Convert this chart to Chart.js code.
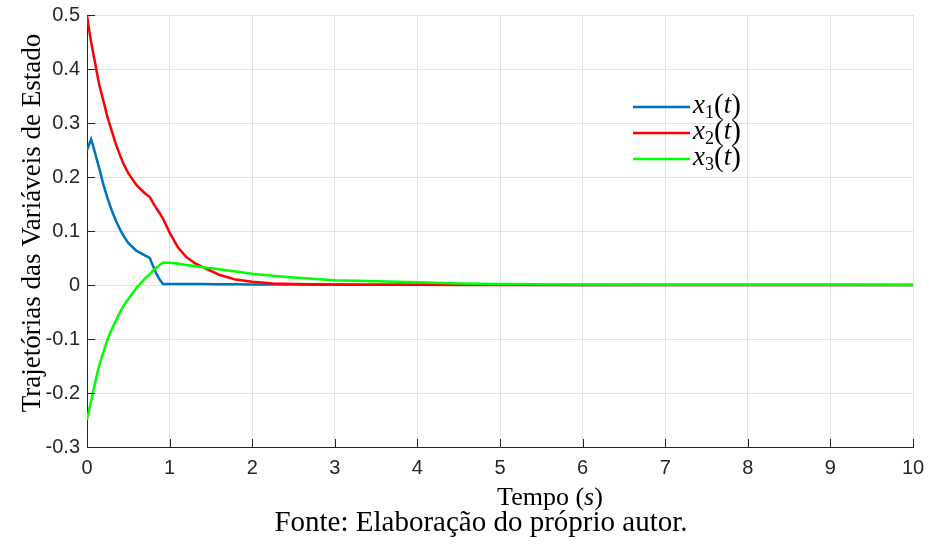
<!DOCTYPE html>
<html lang="pt">
<head>
    <meta charset="UTF-8">
    <title>Trajetórias das Variáveis de Estado</title>
    <script src="https://cdn.jsdelivr.net/npm/chart.js"></script>
    <style>
        * { margin: 0; padding: 0; box-sizing: border-box; }
        html, body { width: 929px; height: 544px; background: #fff; overflow: hidden; }
        .wrap { position: relative; width: 929px; height: 544px; }
    </style>
</head>
<body>
    <div class="wrap">
        <canvas id="chart"></canvas>
    </div>

    <script>
        // time samples (s) and the three state trajectories
        const tempo = [0, 0.025, 0.05, 0.075, 0.1, 0.125, 0.15, 0.2, 0.25, 0.3, 0.35, 0.4, 0.45, 0.5, 0.6, 0.7, 0.76, 0.8, 0.84, 0.88, 0.92,
            1.0, 1.1, 1.2, 1.3, 1.4, 1.6, 1.8, 2.0, 2.25, 2.5, 3, 3.5, 4, 4.5, 5, 6, 7, 8, 9, 10];
        const x1 = [0.25, 0.26, 0.27, 0.257, 0.243, 0.229, 0.215, 0.185, 0.16, 0.138, 0.119, 0.103, 0.089, 0.078, 0.063, 0.055, 0.05, 0.035, 0.021, 0.01, 0.002,
            0.002, 0.002, 0.002, 0.002, 0.002, 0.0015, 0.0015, 0.001, 0.001, 0.0008, 0.0005, 0.0005, 0.0004, 0.0003, 0.0003, 0.0002, 0.0002, 0.0001, 0.0001, 0.0001];
        const x2 = [0.5, 0.473, 0.45, 0.429, 0.41, 0.389, 0.37, 0.34, 0.31, 0.285, 0.261, 0.24, 0.222, 0.207, 0.185, 0.17, 0.163, 0.152, 0.142, 0.133, 0.123,
            0.097, 0.07, 0.052, 0.041, 0.033, 0.019, 0.01, 0.006, 0.003, 0.002, 0.001, 0.0005, 0.0003, 0.0002, 0.0001, 0, 0, 0, 0, 0];
        const x3 = [-0.25, -0.232, -0.215, -0.197, -0.18, -0.163, -0.148, -0.124, -0.1, -0.082, -0.066, -0.05, -0.037, -0.026, -0.005, 0.012, 0.02, 0.027, 0.032, 0.037, 0.041,
            0.041, 0.04, 0.037, 0.035, 0.033, 0.029, 0.025, 0.021, 0.017, 0.014, 0.009, 0.007, 0.005, 0.003, 0.002, 0.001, 0.0006, 0.0004, 0.0003, 0.0002];

        const serieNomes = ['1', '2', '3'];
        const serieCores = ['#0072BD', '#FF0000', '#00FF00'];
        const xTicks = [0, 1, 2, 3, 4, 5, 6, 7, 8, 9, 10];
        const yTicks = [-0.3, -0.2, -0.1, 0, 0.1, 0.2, 0.3, 0.4, 0.5];

        const series = [x1, x2, x3];
        const datasets = series.map((s, i) => ({
            label: 'x' + serieNomes[i] + '(t)',
            data: tempo.map((t, k) => ({ x: t, y: s[k] })),
            borderColor: serieCores[i],
            borderWidth: 2.5,
            pointRadius: 0,
            tension: 0,
            fill: false,
            order: series.length - 1 - i   // later series drawn on top
        }));

        const axisColor = '#262626';
        const serif = '"Liberation Serif", "Times New Roman", serif';
        const sans = '"Liberation Sans", Arial, sans-serif';

        // inward ticks, axis titles, legend and caption
        const extras = {
            id: 'extras',
            afterDraw(chart) {
                const ctx = chart.ctx;
                const a = chart.chartArea;
                const xs = chart.scales.x, ys = chart.scales.y;
                ctx.save();
                ctx.strokeStyle = axisColor;
                ctx.lineWidth = 1;
                ctx.beginPath();
                xTicks.forEach(v => {
                    const px = Math.round(xs.getPixelForValue(v)) + 0.5;
                    ctx.moveTo(px, a.bottom); ctx.lineTo(px, a.bottom - 8);
                });
                yTicks.forEach(v => {
                    const py = Math.round(ys.getPixelForValue(v)) + 0.5;
                    ctx.moveTo(a.left, py); ctx.lineTo(a.left + 8, py);
                });
                ctx.stroke();

                ctx.fillStyle = '#000';
                ctx.textBaseline = 'alphabetic';

                // y title
                ctx.save();
                ctx.translate(40, 223);
                ctx.rotate(-Math.PI / 2);
                ctx.textAlign = 'center';
                ctx.font = '27px ' + serif;
                ctx.fillText('Trajetórias das Variáveis de Estado', 0, 0);
                ctx.restore();

                // x title: Tempo (s) with italic s
                const parts = [['Tempo ', '26px ' + serif], ['(', '26px ' + serif], ['s', 'italic 26px ' + serif], [')', '26px ' + serif]];
                let w = 0;
                parts.forEach(p => { ctx.font = p[1]; w += ctx.measureText(p[0]).width; });
                let x0 = 550 - w / 2;
                ctx.textAlign = 'left';
                parts.forEach(p => { ctx.font = p[1]; ctx.fillText(p[0], x0, 505); x0 += ctx.measureText(p[0]).width; });

                // caption
                ctx.textAlign = 'center';
                ctx.font = '29px ' + serif;
                ctx.fillText('Fonte: Elaboração do próprio autor.', 481, 531);

                // legend
                const rowsY = [107, 133, 159];
                chart.data.datasets.forEach((ds, i) => {
                    const y = rowsY[i];
                    ctx.strokeStyle = ds.borderColor;
                    ctx.lineWidth = 2.5;
                    ctx.beginPath();
                    ctx.moveTo(633, y); ctx.lineTo(690, y);
                    ctx.stroke();
                    let tx = 693;
                    const base = y + 6;
                    const seg = (txt, font, dy) => {
                        ctx.font = font;
                        ctx.textAlign = 'left';
                        ctx.fillText(txt, tx, base + dy);
                        tx += ctx.measureText(txt).width;
                    };
                    seg('x', 'italic 27px ' + serif, 0);
                    seg(serieNomes[i], '18px ' + serif, 5);
                    seg('(', '29px ' + serif, 1);
                    seg('t', 'italic 27px ' + serif, 0);
                    seg(')', '29px ' + serif, 1);
                });
                ctx.restore();
            }
        };

        new Chart(document.getElementById('chart'), {
            type: 'line',
            data: { datasets },
            options: {
                responsive: true,
                maintainAspectRatio: false,
                animation: false,
                layout: { padding: { top: 15, right: 16, left: 0, bottom: 0 } },
                plugins: { legend: { display: false }, tooltip: { enabled: false } },
                scales: {
                    x: {
                        type: 'linear', min: 0, max: 10,
                        afterFit: s => { s.height = 97; s.paddingLeft = 0; s.paddingRight = 0; },
                        afterBuildTicks: s => { s.ticks = xTicks.map(v => ({ value: v })); },
                        grid: { color: '#e3e3e3', drawTicks: false },
                        border: { color: axisColor, width: 1 },
                        ticks: {
                            padding: 9,
                            color: axisColor,
                            font: { family: sans, size: 20 },
                            callback: v => String(v)
                        }
                    },
                    y: {
                        type: 'linear', min: -0.3, max: 0.5,
                        afterFit: s => { s.width = 87; s.paddingTop = 0; s.paddingBottom = 0; },
                        afterBuildTicks: s => { s.ticks = yTicks.map(v => ({ value: v })); },
                        grid: { color: '#e3e3e3', drawTicks: false },
                        border: { color: axisColor, width: 1 },
                        ticks: {
                            padding: 7,
                            color: axisColor,
                            font: { family: sans, size: 20 },
                            callback: v => String(Number(v.toFixed(1)))
                        }
                    }
                }
            },
            plugins: [extras]
        });
    </script>
</body>
</html>
